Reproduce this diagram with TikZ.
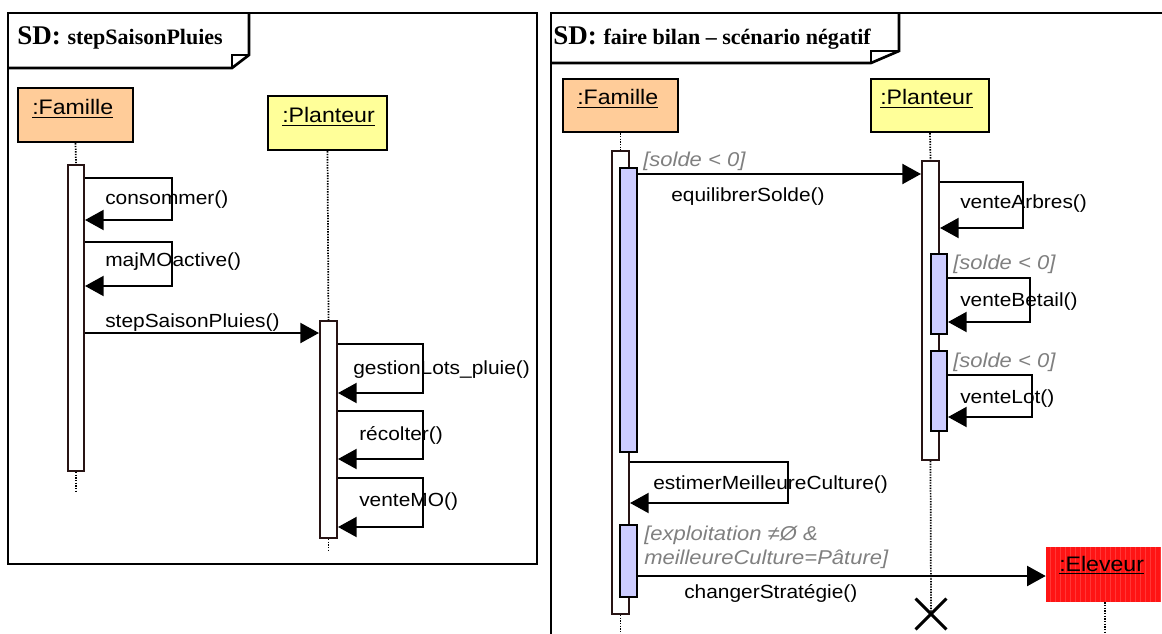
\documentclass[tikz,border=0pt]{standalone}
\usepackage{fontspec}
\setmainfont{Liberation Sans}[FakeStretch=1.1]
\newfontfamily\tnrfont{Liberation Serif}
\usetikzlibrary{arrows.meta,fit,shapes.misc}
\definecolor{famfill}{RGB}{255,204,153}
\definecolor{planfill}{RGB}{255,255,153}
\definecolor{actblue}{RGB}{204,204,255}
\definecolor{actline}{RGB}{40,20,20}
\definecolor{guardgray}{RGB}{128,128,128}
\definecolor{elevred}{RGB}{255,20,20}
\definecolor{gridred}{RGB}{255,55,55}
\tikzset{
 frameline/.style={line width=2pt},
 obj/.style={draw, line width=1.8pt, inner sep=0pt},
 act/.style={draw=actline, fill=white, line width=1.5pt, inner sep=0pt},
 actb/.style={draw=black, fill=actblue, line width=1.5pt, inner sep=0pt},
 life/.style={line width=1.3pt, dash pattern=on 1pt off 1pt},
 msg/.style={line width=1.6pt, -{Triangle[length=14pt,width=15pt]}},
 lbl/.style={anchor=base west, inner sep=0pt, font=\fontsize{14.25}{16}\selectfont},
 grd/.style={anchor=base west, inner sep=0pt, text=guardgray, font=\fontsize{15}{17}\selectfont\itshape},
 oname/.style={anchor=base west, inner sep=0pt, font=\fontsize{15.75}{18}\selectfont},
 titlefont/.style={anchor=base west, inner sep=0pt, font=\tnrfont\bfseries\fontsize{20.25}{22}\selectfont},
}
\begin{document}
\begin{tikzpicture}[x=0.75pt,y=-0.75pt]
\useasboundingbox (0,0) rectangle (1162,634);
\clip (0,0) rectangle (1162,634);
\fill[white] (0,0) rectangle (1162,634);

% ================= LEFT FRAME =================
\draw[frameline] (8,13) rectangle (537,564);
\draw[frameline, line join=miter] (8,68) -- (232,68) -- (249,55) -- (249,13);
\draw[line width=1.5pt] (232,68) -- (232,55) -- (249,55);
\node[titlefont] (t1) at (17,45) {SD: {\fontsize{16.5}{18}\selectfont stepSaisonPluies}};

\node[obj, fill=famfill, fit={(18,88)(133,142)}] (famL) {};
\node[oname] (famLt) at (32,115) {\underline{:Famille}};
\node[obj, fill=planfill, fit={(268,96)(387,150)}] (plaL) {};
\node[oname] (plaLt) at (282,123) {\underline{:Planteur}};

\node[act, fit={(68,165)(84,471)}] (famLa) {};
\node[act, fit={(320,321)(337,538)}] (plaLa) {};

\coordinate (famLend) at (76,492);
\coordinate (plaLend) at (328.5,552);
\draw[life] (famL.south) -- (famLa.north);
\draw[life] (famLa.south) -- (famLend);
\draw[life] (plaL.south) -- (plaLa.north);
\draw[life] (plaLa.south) -- (plaLend);

\draw[msg] (famLa.east |- 0,178) -- (172,178) |- (famLa.east |- 0,220);
\node[lbl] (m1) at (105,205) {consommer()};
\draw[msg] (famLa.east |- 0,242) -- (172,242) |- (famLa.east |- 0,286);
\node[lbl] (m2) at (105,267) {majMOactive()};
\draw[msg] (famLa.east |- 0,333) -- (plaLa.west |- 0,333);
\node[lbl] (m3) at (105,327) {stepSaisonPluies()};
\draw[msg] (plaLa.east |- 0,344) -- (423,344) |- (plaLa.east |- 0,393);
\node[lbl] (m4) at (353,374) {gestionLots\_pluie()};
\draw[msg] (plaLa.east |- 0,411) -- (423,411) |- (plaLa.east |- 0,459);
\node[lbl] (m5) at (359,440) {récolter()};
\draw[msg] (plaLa.east |- 0,478) -- (423,478) |- (plaLa.east |- 0,527);
\node[lbl] (m6) at (359,506) {venteMO()};

% ================= RIGHT FRAME =================
\draw[frameline] (1175,13) -- (551,13) -- (551,650);
\draw[frameline, line join=miter] (551,63) -- (871,63) -- (899,51) -- (899,13);
\draw[line width=1.5pt] (871,63) -- (871,51) -- (899,51);
\node[titlefont] (t2) at (553,45) {SD: {\fontsize{16.5}{18}\selectfont faire bilan – scénario négatif}};

\node[obj, fill=famfill, fit={(563,79)(678,132)}] (famR) {};
\node[oname] (famRt) at (577,105) {\underline{:Famille}};
\node[obj, fill=planfill, fit={(871,79)(989,132)}] (plaR) {};
\node[oname] (plaRt) at (880,105) {\underline{:Planteur}};
\node[fill=elevred, inner sep=0pt, fit={(1046,547)(1161,602)}] (eleR) {};
\draw[gridred, line width=0.15pt, step=5] (1046,547) grid (1161,602);
\node[oname] (eleRt) at (1059,571) {\underline{:Eleveur}};

\node[act, fit={(612,151)(629,614)}] (famRa) {};
\node[actb, fit={(620,168)(637,452)}] (famRb1) {};
\node[actb, fit={(620,525)(637,597)}] (famRb2) {};
\node[act, fit={(922,161)(939,460)}] (plaRa) {};
\node[actb, fit={(931,254)(947,334)}] (plaRb1) {};
\node[actb, fit={(931,351)(947,431)}] (plaRb2) {};
\node[draw, cross out, line width=2.2pt, minimum size=21pt, inner sep=0pt] (destroy) at (931,614) {};

\coordinate (famRend) at (620.5,640);
\coordinate (eleRend) at (1105,640);
\draw[life] (famR.south) -- (famRa.north);
\draw[life] (famRa.south) -- (famRend);
\draw[life] (plaR.south) -- (plaRa.north);
\draw[life] (plaRa.south) -- (destroy.center);
\draw[life] (eleR.south -| eleRend) -- (eleRend);

\node[grd] (g1) at (643,167) {[solde < 0]};
\draw[msg] (famRb1.east |- 0,174) -- (plaRa.west |- 0,174);
\node[lbl] (n1) at (671,202) {equilibrerSolde()};
\draw[msg] (plaRa.east |- 0,182) -- (1023,182) |- (plaRa.east |- 0,228);
\node[lbl] (n2) at (960,209) {venteArbres()};
\node[grd] (g2) at (953,270) {[solde < 0]};
\draw[msg] (plaRb1.east |- 0,278) -- (1030,278) |- (plaRb1.east |- 0,322);
\node[lbl] (n3) at (960,306) {venteBetail()};
\node[grd] (g3) at (953,367) {[solde < 0]};
\draw[msg] (plaRb2.east |- 0,375) -- (1032,375) |- (plaRb2.east |- 0,417);
\node[lbl] (n4) at (960,403) {venteLot()};
\draw[msg] (famRa.east |- 0,462) -- (788,462) |- (famRa.east |- 0,503);
\node[lbl] (n5) at (653,489) {estimerMeilleureCulture()};
\node[grd] (g4) at (644,540) {[exploitation ≠Ø \&};
\node[grd] (g5) at (644,564) {meilleureCulture=Pâture]};
\draw[msg] (famRb2.east |- 0,576) -- (eleR.west |- 0,576);
\node[lbl] (n6) at (684,598) {changerStratégie()};
\end{tikzpicture}
\end{document}
